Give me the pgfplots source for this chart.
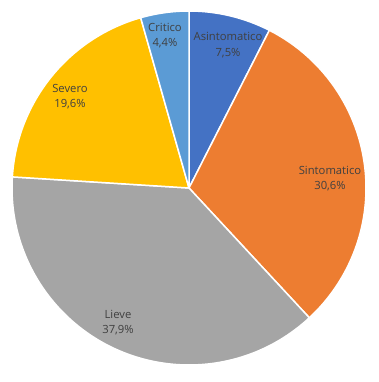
\documentclass[border=0pt]{standalone}
\usepackage{pgfplots}
\pgfplotsset{compat=1.18}
\usepackage{pgfplotstable}
\usepackage{fontspec}
\setmainfont{Open Sans}
\definecolor{cA}{HTML}{4472C4}
\definecolor{cB}{HTML}{ED7D31}
\definecolor{cC}{HTML}{A5A5A5}
\definecolor{cD}{HTML}{FFC000}
\definecolor{cE}{HTML}{5B9BD5}
\definecolor{txtgray}{HTML}{404040}
\tikzset{lbl/.style={font=\fontsize{11.3}{15.5}\selectfont, text=txtgray, align=center, inner sep=0pt}}
\pgfplotstableread[col sep=comma]{
name,value,col,lx,ly
Asintomatico,7.5,cA,228,45
Sintomatico,30.6,cB,330,178.5
Lieve,37.9,cC,118,322.5
Severo,19.6,cD,70,96.5
Critico,4.4,cE,165,35.5
}\piedata
\begin{document}
\begin{tikzpicture}
\begin{axis}[
  scale only axis, width=379bp, height=382bp,
  xmin=0, xmax=379, ymin=0, ymax=382,
  hide axis, clip=false]
\path[use as bounding box] (axis cs:0,0) rectangle (axis cs:379,382);
\pgfplotstablegetrowsof{\piedata}
\pgfmathtruncatemacro\N{\pgfplotsretval-1}
\def\cum{0}
\pgfplotsforeachungrouped \i in {0,...,\N}{%
  \pgfplotstablegetelem{\i}{value}\of\piedata \let\v\pgfplotsretval
  \pgfplotstablegetelem{\i}{col}\of\piedata \let\col\pgfplotsretval
  \pgfmathsetmacro\a{90-3.6*\cum}%
  \pgfmathsetmacro\b{90-3.6*(\cum+\v)}%
  \pgfmathsetmacro\xa{189+177*cos(\a)}%
  \pgfmathsetmacro\ya{194+177*sin(\a)}%
  \edef\temp{\noexpand\fill[\col, draw=white, line width=1.5bp, line join=round] (axis cs:189,194) -- (axis cs:\xa,\ya) arc[start angle=\a, end angle=\b, radius=177bp] -- cycle;}%
  \temp
  \pgfmathsetmacro\cum{\cum+\v}%
}
\pgfplotsforeachungrouped \i in {0,...,\N}{%
  \pgfplotstablegetelem{\i}{value}\of\piedata \let\v\pgfplotsretval
  \pgfplotstablegetelem{\i}{name}\of\piedata \let\nm\pgfplotsretval
  \pgfplotstablegetelem{\i}{lx}\of\piedata \let\lx\pgfplotsretval
  \pgfplotstablegetelem{\i}{ly}\of\piedata \let\ly\pgfplotsretval
  \pgfmathsetmacro\lyy{382-\ly}%
  \edef\temp{\noexpand\node[lbl] at (axis cs:\lx,\lyy) {\nm\noexpand\\\noexpand\pgfmathprintnumber[fixed, fixed zerofill, precision=1, use comma, assume math mode=true]{\v}\noexpand\%};}%
  \temp
}
\end{axis}
\end{tikzpicture}
\end{document}
